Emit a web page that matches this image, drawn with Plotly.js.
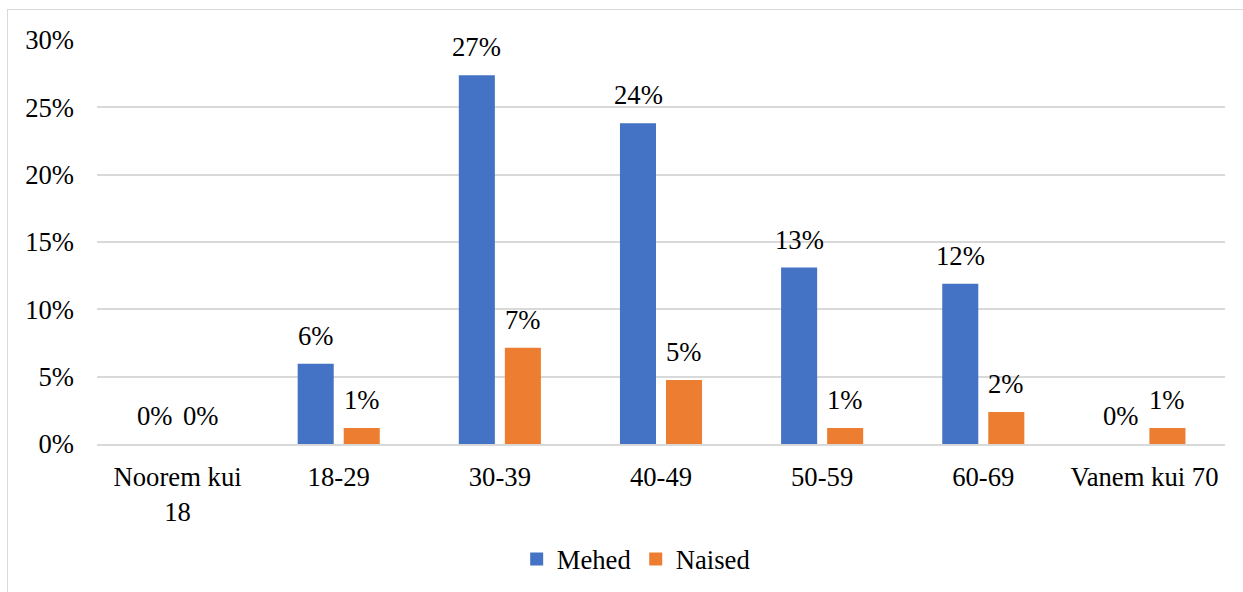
<!DOCTYPE html>
<html>
<head>
<meta charset="utf-8">
<script src="https://cdn.plot.ly/plotly-3.0.1.min.js"></script>
<style>
html,body{margin:0;padding:0;width:1243px;height:592px;overflow:hidden;background:#fff;}
#frame{position:absolute;left:7px;top:9px;width:1245px;height:600px;border:1px solid #d9d9d9;box-sizing:border-box;}
#chart{position:absolute;left:0;top:0;width:1243px;height:592px;}
</style>
</head>
<body>
<div id="frame"></div>
<div id="chart"></div>
<script>
const categories = ["Noorem kui<br>18", "18-29", "30-39", "40-49", "50-59", "60-69", "Vanem kui 70"];
const mehed = [0, 0.0595, 0.2738, 0.2381, 0.1310, 0.1190, 0];
const naised = [0, 0.0119, 0.0714, 0.0476, 0.0119, 0.0238, 0.0119];
const seriesNames = ["Mehed", "Naised"];
const seriesColors = ["#4472C4", "#ED7D31"];
const tickVals = [0, 0.05, 0.10, 0.15, 0.20, 0.25, 0.30];

function mkFont() { return {family: "Liberation Serif", size: 26.67, color: "#000000"}; }

const seriesData = [mehed, naised];
const traces = [];
const annotations = [];
seriesData.forEach((vals, i) => {
  traces.push({type: "bar", name: seriesNames[i], x: categories, y: vals,
    marker: {color: seriesColors[i]}, showlegend: false, hoverinfo: "none"});
  vals.forEach((v, j) => {
    annotations.push({x: categories[j], y: v, xref: "x", yref: "y",
      text: Math.round(v * 100) + "%", showarrow: false,
      xanchor: "center", yanchor: "bottom", xshift: i === 0 ? -23 : 23, yshift: 11,
      font: mkFont()});
  });
});
seriesData.forEach((vals, i) => {
  traces.push({type: "scatter", mode: "markers", name: seriesNames[i], x: [null], y: [null],
    marker: {symbol: "square", size: 13, color: seriesColors[i]}, showlegend: true, hoverinfo: "none"});
});

const layout = {
  width: 1243, height: 592,
  margin: {l: 97, r: 18, t: 40, b: 148, autoexpand: false},
  paper_bgcolor: "rgba(0,0,0,0)", plot_bgcolor: "rgba(0,0,0,0)",
  font: mkFont(),
  barmode: "group", bargap: 0.4286, bargroupgap: 0.217,
  showlegend: true,
  annotations: annotations,
  legend: {orientation: "h", x: 0.478, xanchor: "center", y: -0.285, yanchor: "middle",
           font: mkFont(), itemwidth: 30, traceorder: "normal", tracegroupgap: 0},
  xaxis: {type: "category", showgrid: false, showline: true, linecolor: "#d9d9d9", linewidth: 2,
          ticks: "", tickfont: mkFont(), ticklabelstandoff: 8, fixedrange: true, automargin: false},
  yaxis: {range: [0, 0.30], tickvals: tickVals, tickformat: ".0%", showgrid: true,
          gridcolor: "#d9d9d9", gridwidth: 2, zeroline: false, showline: false, ticks: "",
          tickfont: mkFont(), ticklabelstandoff: 22, fixedrange: true, automargin: false}
};

Plotly.newPlot("chart", traces, layout, {displayModeBar: false, staticPlot: true});
</script>
</body>
</html>
